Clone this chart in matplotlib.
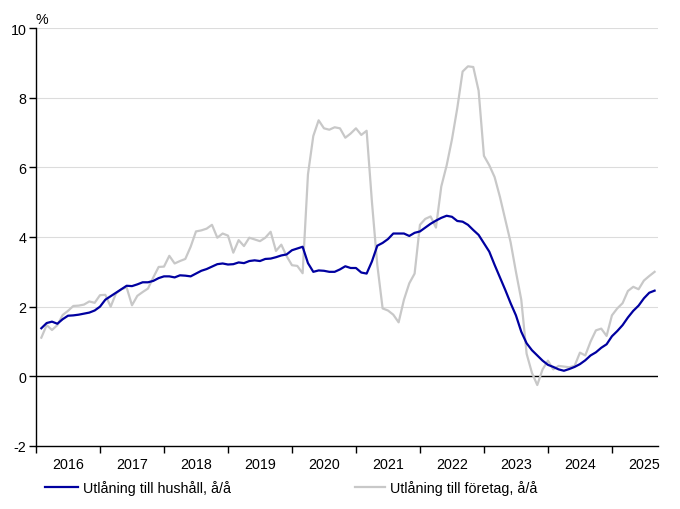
import matplotlib
matplotlib.use("Agg")
import matplotlib.pyplot as plt
import numpy as np

plt.rcParams['font.family'] = ['Liberation Sans', 'DejaVu Sans']
plt.rcParams['axes.unicode_minus'] = False

# Månadsdata, jan 2016 - aug 2025, procent år/år
hushall = [
    1.38, 1.53, 1.57, 1.51, 1.64, 1.74, 1.75, 1.77, 1.80, 1.83, 1.89, 2.00,
    2.20, 2.30, 2.40, 2.50, 2.60, 2.59, 2.64, 2.70, 2.70, 2.74, 2.82, 2.87,
    2.87, 2.84, 2.90, 2.89, 2.87, 2.95, 3.03, 3.08, 3.15, 3.22, 3.24, 3.21,
    3.22, 3.27, 3.25, 3.31, 3.33, 3.31, 3.37, 3.38, 3.42, 3.47, 3.50, 3.62,
    3.67, 3.72, 3.25, 3.00, 3.04, 3.03, 3.00, 3.00, 3.07, 3.16, 3.11, 3.11,
    2.98, 2.95, 3.30, 3.75, 3.83, 3.94, 4.10, 4.10, 4.10, 4.03, 4.12, 4.16,
    4.27, 4.38, 4.47, 4.55, 4.61, 4.58, 4.46, 4.44, 4.35, 4.20, 4.06, 3.82,
    3.58, 3.20, 2.84, 2.48, 2.10, 1.75, 1.28, 0.95, 0.75, 0.60, 0.45, 0.33,
    0.27, 0.20, 0.16, 0.21, 0.27, 0.35, 0.46, 0.60, 0.69, 0.82, 0.92, 1.15,
    1.30, 1.47, 1.69, 1.88, 2.03, 2.24, 2.40, 2.46,
]
foretag = [
    1.11, 1.47, 1.33, 1.47, 1.76, 1.88, 2.02, 2.03, 2.06, 2.15, 2.11, 2.33,
    2.34, 2.00, 2.38, 2.50, 2.55, 2.04, 2.31, 2.42, 2.52, 2.84, 3.14, 3.15,
    3.46, 3.24, 3.31, 3.37, 3.72, 4.16, 4.19, 4.24, 4.35, 3.98, 4.10, 4.04,
    3.55, 3.91, 3.74, 3.98, 3.93, 3.88, 3.98, 4.15, 3.60, 3.78, 3.45, 3.19,
    3.17, 2.96, 5.80, 6.90, 7.35, 7.12, 7.08, 7.15, 7.12, 6.85, 6.97, 7.12,
    6.93, 7.05, 5.00, 3.20, 1.95, 1.89, 1.77, 1.55, 2.20, 2.67, 2.95, 4.35,
    4.52, 4.59, 4.27, 5.45, 6.05, 6.80, 7.70, 8.75, 8.90, 8.88, 8.20, 6.33,
    6.06, 5.72, 5.15, 4.50, 3.85, 3.00, 2.20, 0.65, 0.10, -0.25, 0.20, 0.45,
    0.20, 0.30, 0.28, 0.26, 0.30, 0.68, 0.60, 1.00, 1.32, 1.37, 1.16, 1.75,
    1.95, 2.10, 2.45, 2.57, 2.50, 2.75, 2.88, 3.00,
]
ar = list(range(2016, 2026))
etiketter = ['Utlåning till hushåll, å/å', 'Utlåning till företag, å/å']

# tidsaxel: varje månad placerad vid månadens slut
x = 2016 + (np.arange(len(hushall)) + 1) / 12

fs = 10.3
fig = plt.figure(figsize=(6.8, 5.1), dpi=100)
ax = fig.add_axes([36/680, 1-447/510, 622/680, 418/510])

ax.plot(x, foretag, color='#c8c8c8', lw=1.6, label=etiketter[1])
ax.plot(x, hushall, color='#0000a0', lw=1.6, label=etiketter[0])

ax.set_xlim(2016, 2025.72)
ax.set_ylim(-2, 10)

# rutnät och nollinje
for v in [2, 4, 6, 8, 10]:
    ax.axhline(v, color='#dcdcdc', lw=0.8, zorder=0)
ax.axhline(0, color='black', lw=1.0, zorder=1)

for s in ['top', 'right']:
    ax.spines[s].set_visible(False)
ax.spines['left'].set_linewidth(1.0)
ax.spines['bottom'].set_linewidth(1.0)

ax.set_yticks(range(-2, 11, 2))
ax.tick_params(axis='y', direction='out', length=5, width=1, labelsize=fs, pad=2)

ax.set_xticks(ar)
ax.set_xticklabels([])
ax.set_xticks([a + 0.5 for a in ar], minor=True)
ax.set_xticklabels([str(a) for a in ar], minor=True, fontsize=fs)
ax.tick_params(axis='x', which='major', direction='out', length=5, width=1)
ax.tick_params(axis='x', which='minor', length=0, pad=8)

fig.text(35/680, 1-20/510, '%', fontsize=fs, ha='left', va='center')

h = ax.get_legend_handles_labels()[0]
fig.legend(handles=[h[1]], labels=[etiketter[0]], loc='center left',
           bbox_to_anchor=(45/680, 1-489/510), frameon=False, fontsize=fs,
           handlelength=2.3, handletextpad=0.35, borderpad=0, borderaxespad=0)
fig.legend(handles=[h[0]], labels=[etiketter[1]], loc='center left',
           bbox_to_anchor=(355/680, 1-489/510), frameon=False, fontsize=fs,
           handlelength=2.1, handletextpad=0.35, borderpad=0, borderaxespad=0)

fig.savefig('out.png', dpi=100)
